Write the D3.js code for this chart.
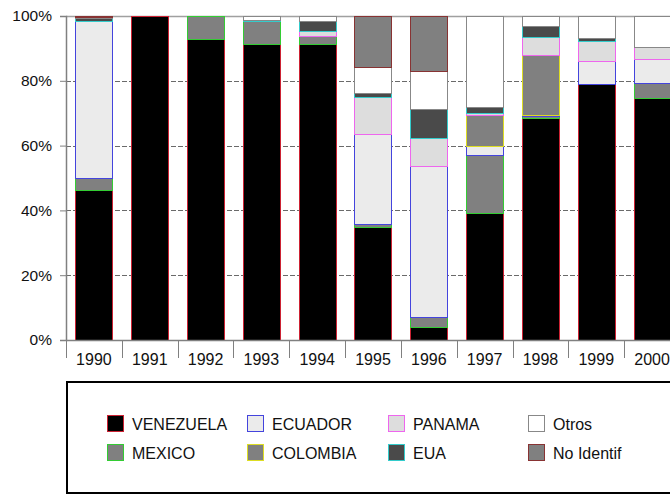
<!DOCTYPE html>
<html>
<head>
<meta charset="utf-8">
<script src="https://cdn.jsdelivr.net/npm/d3@7/dist/d3.min.js"></script>
<style>
  html, body { margin: 0; padding: 0; background: #fff; overflow: hidden; }
  svg { display: block; font-family: "Liberation Sans", Arial, sans-serif; }
</style>
</head>
<body>
<svg id="chart" width="670" height="495"></svg>
<script>
const years = ["1990","1991","1992","1993","1994","1995","1996","1997","1998","1999","2000"];
const venezuela = [46.3, 100, 92.9, 91.3, 91.3, 34.9, 4.1, 39.1, 68.4, 78.9, 74.8];
const mexico    = [3.6, 0, 7.1, 7.2, 2.6, 0.8, 3.1, 18.0, 0.8, 0, 4.4];
const ecuador   = [48.5, 0, 0, 0, 0, 27.8, 46.5, 2.9, 0.3, 7.3, 7.4];
const colombia  = [0, 0, 0, 0, 0, 0, 0, 9.4, 18.5, 0, 0];
const panama    = [0, 0, 0, 0, 1.4, 11.6, 8.5, 0.6, 5.4, 6.1, 3.9];
const eua       = [1.0, 0, 0, 0.2, 3.1, 1.2, 9.0, 1.8, 3.5, 0.8, 0];
const otros     = [0.4, 0, 0, 1.3, 1.6, 8.1, 11.8, 28.2, 3.1, 6.9, 9.5];
const noIdentif = [0.2, 0, 0, 0, 0, 15.6, 17.0, 0, 0, 0, 0];
const seriesNames = ["VENEZUELA","MEXICO","ECUADOR","COLOMBIA","PANAMA","EUA","Otros","No Identif"];
const yTicks = [0, 20, 40, 60, 80, 100];

const seriesValues = [venezuela, mexico, ecuador, colombia, panama, eua, otros, noIdentif];
const styles = {
  "VENEZUELA": {fill: "#000000", stroke: "#cc2233"},
  "MEXICO":    {fill: "#808080", stroke: "#33cc33"},
  "ECUADOR":   {fill: "#ebebeb", stroke: "#4444dd"},
  "COLOMBIA":  {fill: "#808080", stroke: "#dddd22"},
  "PANAMA":    {fill: "#dddddd", stroke: "#ee66ee"},
  "EUA":       {fill: "#4a4a4a", stroke: "#33cccc"},
  "Otros":     {fill: "#ffffff", stroke: "#888888"},
  "No Identif":{fill: "#808080", stroke: "#883333"}
};

const table = years.map((yr, i) => {
  const row = {year: yr};
  seriesNames.forEach((s, k) => row[s] = seriesValues[k][i]);
  return row;
});

const svg = d3.select("#chart");
const pLeft = 66, pRight = 680, pTop = 16, pBottom = 340;

const x = d3.scaleBand().domain(years).range([pLeft, pRight]).paddingInner(0.337).paddingOuter(0.1685);
const y = d3.scaleLinear().domain([0, 100]).range([pBottom, pTop]);

// gridlines
svg.append("g").selectAll("line").data(yTicks.filter(t => t > 0 && t < 100)).join("line")
  .attr("x1", pLeft).attr("x2", pRight)
  .attr("y1", d => Math.round(y(d)) + 0.5).attr("y2", d => Math.round(y(d)) + 0.5)
  .attr("stroke", "#6a6a6a").attr("stroke-width", 1).attr("stroke-dasharray", "5,2");
// top border line
svg.append("line").attr("x1", pLeft).attr("x2", pRight)
  .attr("y1", y(100) + 0.5).attr("y2", y(100) + 0.5)
  .attr("stroke", "#a0a0a0").attr("stroke-width", 1.5);

// stacked bars
const stack = d3.stack().keys(seriesNames);
const stacked = stack(table);
const layers = svg.append("g").selectAll("g").data(stacked).join("g")
  .attr("fill", d => styles[d.key].fill)
  .attr("stroke", d => styles[d.key].stroke)
  .attr("stroke-width", 1);
layers.selectAll("rect").data(d => d).join("rect")
  .attr("x", d => Math.round(x(d.data.year)) + 0.5)
  .attr("width", Math.round(x.bandwidth()))
  .attr("y", d => Math.round(y(d[1])) + 0.5)
  .attr("height", d => Math.max(0, Math.round(y(d[0])) - Math.round(y(d[1]))));

// y axis
const yAxis = d3.axisLeft(y).tickValues(yTicks).tickFormat(d => d + "%").tickSize(6).tickPadding(8);
const gy = svg.append("g").attr("transform", `translate(${pLeft},0)`).call(yAxis);
gy.select(".domain").attr("stroke", "#808080").attr("stroke-width", 1.5);
gy.selectAll(".tick line").attr("stroke", "#808080");
gy.selectAll("text").attr("font-size", 15.5).attr("fill", "#111")
  .attr("font-family", "'Liberation Sans', Arial, sans-serif");

// x axis
const xAxis = d3.axisBottom(x).tickSize(0).tickPadding(14);
const gx = svg.append("g").attr("transform", `translate(0,${pBottom})`).call(xAxis);
gx.select(".domain").attr("stroke", "#808080").attr("stroke-width", 1.5);
gx.selectAll("text").attr("font-size", 16).attr("fill", "#111")
  .attr("font-family", "'Liberation Sans', Arial, sans-serif");
// category boundary ticks
const step = x.step();
svg.append("g").selectAll("line").data(d3.range(years.length + 1)).join("line")
  .attr("x1", i => Math.round(pLeft + i * step) + 0.5).attr("x2", i => Math.round(pLeft + i * step) + 0.5)
  .attr("y1", pBottom).attr("y2", pBottom + 18)
  .attr("stroke", "#808080").attr("stroke-width", 1);

// legend
svg.append("rect").attr("x", 67).attr("y", 382).attr("width", 700).attr("height", 111)
  .attr("fill", "none").attr("stroke", "#000").attr("stroke-width", 2);
const legendCols = [107, 247, 388, 528];
const legendRows = [415, 444];
const lg = svg.append("g").selectAll("g").data(seriesNames).join("g")
  .attr("transform", (d, i) => `translate(${legendCols[Math.floor(i / 2)]},${legendRows[i % 2]})`);
lg.append("rect").attr("x", 0.5).attr("y", 0.5).attr("width", 16).attr("height", 16)
  .attr("fill", d => styles[d].fill).attr("stroke", d => styles[d].stroke).attr("stroke-width", 1);
lg.append("text").attr("x", 25).attr("y", 15).attr("font-size", 16).attr("fill", "#111")
  .text(d => d);
</script>
</body>
</html>
